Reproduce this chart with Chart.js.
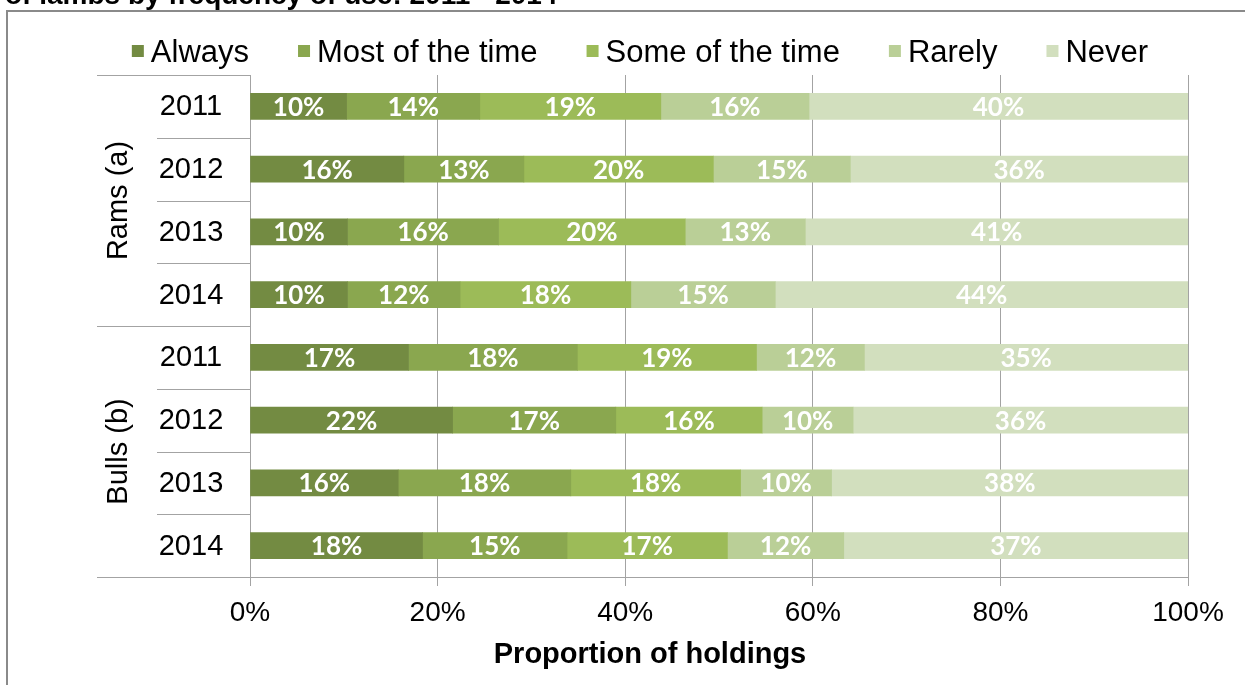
<!DOCTYPE html>
<html>
<head>
<meta charset="utf-8">
<script src="https://cdn.jsdelivr.net/npm/chart.js@4/dist/chart.umd.min.js"></script>
<style>
  html, body { margin: 0; padding: 0; background: #fff; }
  #wrap { position: relative; width: 1245px; height: 685px; }
</style>
</head>
<body>
<div id="wrap"><canvas id="chart"></canvas></div>
<script>
// Datos (porcentaje de explotaciones)
const years = ['2011', '2012', '2013', '2014', '2011', '2012', '2013', '2014'];
const groups = ['Rams (a)', 'Bulls (b)'];
const seriesNames = ['Always', 'Most of the time', 'Some of the time', 'Rarely', 'Never'];
const always     = [10.3, 16.4, 10.4, 10.4, 16.9, 21.6, 15.8, 18.4];
const mostOfTime = [14.2, 12.8, 16.1, 12.0, 18.0, 17.4, 18.4, 15.4];
const someOfTime = [19.3, 20.2, 19.9, 18.2, 19.1, 15.6, 18.1, 17.1];
const rarely     = [15.8, 14.6, 12.8, 15.4, 11.5,  9.7,  9.7, 12.4];
const never      = [40.4, 36.0, 40.8, 44.0, 34.5, 35.7, 38.0, 36.7];
const xTicks = [0, 20, 40, 60, 80, 100];

const colores = ['#738b42', '#8aa74f', '#9cbb58', '#bacf97', '#d2dfbe'];
const gris = '#a3a3a3';
const arial = '"Liberation Sans", Arial, sans-serif';

// Título cortado arriba, marco, leyenda, etiquetas de categorías y valores
const extras = {
    id: 'extras',
    afterDraw(chart) {
        const ctx = chart.ctx;
        const area = chart.chartArea;
        const y = chart.scales.y;
        ctx.save();

        // título (solo se ve la parte de abajo)
        ctx.fillStyle = '#000';
        ctx.font = 'bold 28px ' + arial;
        ctx.textAlign = 'left';
        ctx.textBaseline = 'alphabetic';
        ctx.fillText('of lambs by frequency of use: 2011 - 2014', 5, 4);

        // marco
        ctx.strokeStyle = '#8a8a8a';
        ctx.lineWidth = 2;
        ctx.beginPath();
        ctx.moveTo(7, 685);
        ctx.lineTo(7, 11);
        ctx.lineTo(1245, 11);
        ctx.stroke();

        // leyenda
        ctx.font = '31px ' + arial;
        ctx.textBaseline = 'middle';
        const caja = 12, hueco = 7, sep = 49;
        const anchos = seriesNames.map(n => ctx.measureText(n).width);
        const total = anchos.reduce((a, b) => a + b, 0) + seriesNames.length * (caja + hueco) + sep * (seriesNames.length - 1);
        let lx = 640 - total / 2;
        seriesNames.forEach((n, i) => {
            ctx.fillStyle = colores[i];
            ctx.fillRect(lx, 45, caja, caja);
            ctx.fillStyle = '#000';
            ctx.fillText(n, lx + caja + hueco, 53);
            lx += caja + hueco + anchos[i] + sep;
        });

        // separadores del eje de categorías
        ctx.strokeStyle = gris;
        ctx.lineWidth = 1;
        const paso = (y.getPixelForTick(1) - y.getPixelForTick(0));
        ctx.beginPath();
        ctx.moveTo(97, area.top + 0.5); ctx.lineTo(area.left, area.top + 0.5);
        ctx.moveTo(97, area.bottom + 0.5); ctx.lineTo(area.right, area.bottom + 0.5);
        for (let i = 0; i < years.length - 1; i++) {
            const yy = Math.round(y.getPixelForTick(i) + paso / 2) + 0.5;
            const x0 = (i === 3) ? 97 : 157;
            ctx.moveTo(x0, yy); ctx.lineTo(area.left, yy);
        }
        ctx.stroke();

        // años
        ctx.fillStyle = '#000';
        ctx.font = '29px ' + arial;
        ctx.textAlign = 'center';
        years.forEach((yr, i) => {
            ctx.fillText(yr, 191, y.getPixelForTick(i) + 1);
        });

        // grupos (texto girado)
        groups.forEach((g, k) => {
            const yTop = y.getPixelForTick(k * 4) - paso / 2;
            const yBot = y.getPixelForTick(k * 4 + 3) + paso / 2;
            ctx.save();
            ctx.translate(119, (yTop + yBot) / 2);
            ctx.rotate(-Math.PI / 2);
            ctx.fillText(g, 0, 0);
            ctx.restore();
        });

        // título del eje x, centrado sobre la zona de categorías + barras
        ctx.font = 'bold 29px ' + arial;
        ctx.fillText('Proportion of holdings', 650, 655);

        // etiquetas de valores
        ctx.fillStyle = '#fff';
        ctx.font = 'bold 26px Lato, "Open Sans", sans-serif';
        chart.data.datasets.forEach((ds, di) => {
            const meta = chart.getDatasetMeta(di);
            meta.data.forEach((bar, j) => {
                const cx = (bar.x + bar.base) / 2;
                ctx.fillText(Math.round(ds.data[j]) + '%', cx, bar.y + 1);
            });
        });
        ctx.restore();
    }
};

const series = [always, mostOfTime, someOfTime, rarely, never];

new Chart(document.getElementById('chart').getContext('2d'), {
    type: 'bar',
    data: {
        labels: years,
        datasets: series.map((d, i) => ({
            label: seriesNames[i],
            data: d,
            backgroundColor: colores[i],
            borderWidth: 0,
            barThickness: 26
        }))
    },
    options: {
        indexAxis: 'y',
        responsive: true,
        maintainAspectRatio: false,
        animation: false,
        layout: { padding: { left: 250, right: 57, top: 75, bottom: 0 } },
        plugins: {
            legend: { display: false },
            tooltip: { enabled: false }
        },
        scales: {
            x: {
                stacked: true,
                min: 0,
                max: 100,
                afterBuildTicks: scale => { scale.ticks = xTicks.map(v => ({ value: v })); },
                afterFit: scale => { scale.height = 108; },
                ticks: {
                    callback: v => v + '%',
                    color: '#000',
                    padding: 10,
                    font: { family: arial, size: 28 }
                },
                grid: { color: gris, lineWidth: 1, tickLength: 9 },
                border: { display: true, color: gris }
            },
            y: {
                stacked: true,
                display: false
            }
        }
    },
    plugins: [extras]
});
</script>
</body>
</html>
